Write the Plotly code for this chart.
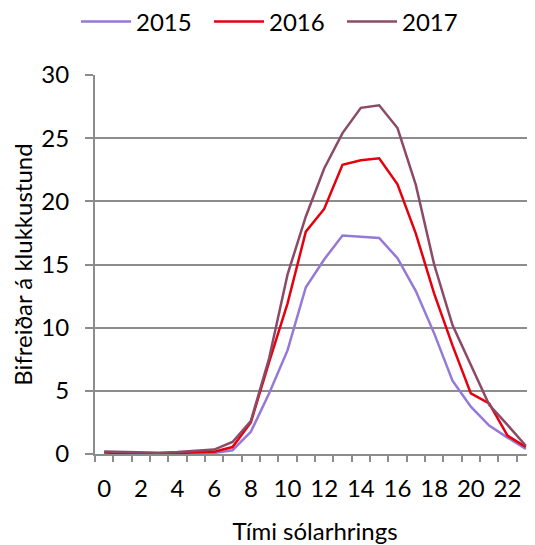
import plotly.graph_objects as go

hours = list(range(24))
tick_hours = list(range(0, 24, 2))
tick_labels = [str(h) for h in tick_hours]
y_ticks = [0, 5, 10, 15, 20, 25, 30]

v2015 = [0.08, 0.03, 0.0, 0.0, 0.03, 0.05, 0.08, 0.3, 1.75, 4.8, 8.2, 13.2, 15.4, 17.3,
         17.2, 17.1, 15.5, 12.9, 9.55, 5.8, 3.75, 2.25, 1.3, 0.4]
v2016 = [0.13, 0.05, 0.03, 0.03, 0.08, 0.13, 0.18, 0.55, 2.5, 7.3, 11.9, 17.6, 19.4, 22.9,
         23.25, 23.4, 21.35, 17.45, 12.7, 8.6, 4.8, 4.0, 1.45, 0.55]
v2017 = [0.2, 0.15, 0.1, 0.1, 0.15, 0.25, 0.35, 0.95, 2.6, 7.6, 14.2, 18.8, 22.6, 25.4,
         27.4, 27.6, 25.8, 21.3, 15.0, 10.2, 7.05, 3.9, 2.3, 0.65]

series = [("2015", v2015, "#9579D6"), ("2016", v2016, "#E6000E"), ("2017", v2017, "#8B4A66")]

FONT = "Lato, 'Open Sans', sans-serif"

fig = go.Figure()
for name, vals, col in series:
    fig.add_trace(go.Scatter(x=hours, y=vals, mode="lines", name=name,
                             line=dict(color=col, width=2.5)))

# page body has an 8px margin, so the figure is offset by 8px
fig.update_layout(
    width=535, height=545,
    margin=dict(l=87, r=8, t=67, b=99, autoexpand=False),
    paper_bgcolor="white", plot_bgcolor="white",
    font=dict(family=FONT, size=24, color="#000000"),
    legend=dict(orientation="h", x=0.5, xanchor="center", xref="container",
                y=1 - 14 / 545, yref="container", yanchor="middle",
                font=dict(size=24), entrywidth=68, entrywidthmode="pixels",
                itemwidth=50, bgcolor="rgba(0,0,0,0)"),
    showlegend=True,
)
fig.update_xaxes(
    range=[-0.5, 23.5], tickmode="array", tickvals=tick_hours, ticktext=tick_labels,
    ticks="", showgrid=False, zeroline=False,
    showline=True, linecolor="#8c8c8c", linewidth=2,
    minor=dict(tick0=-0.5, dtick=1, ticks="outside", ticklen=6, tickcolor="#8c8c8c",
               tickwidth=2, showgrid=False),
    ticklabelstandoff=12,
    title=dict(text="Tími sólarhrings", font=dict(size=24), standoff=22),
    tickfont=dict(size=24),
)
fig.update_yaxes(
    range=[0, 30], tickmode="array", tickvals=y_ticks,
    ticks="outside", ticklen=8, tickcolor="#8c8c8c", tickwidth=2,
    showgrid=True, gridcolor="#8c8c8c", gridwidth=2, zeroline=False,
    showline=True, linecolor="#8c8c8c", linewidth=2,
    ticklabelstandoff=11,
    title=dict(text="Bifreiðar á klukkustund", font=dict(size=24), standoff=16),
    tickfont=dict(size=24),
)

fig.write_html("out.html")
